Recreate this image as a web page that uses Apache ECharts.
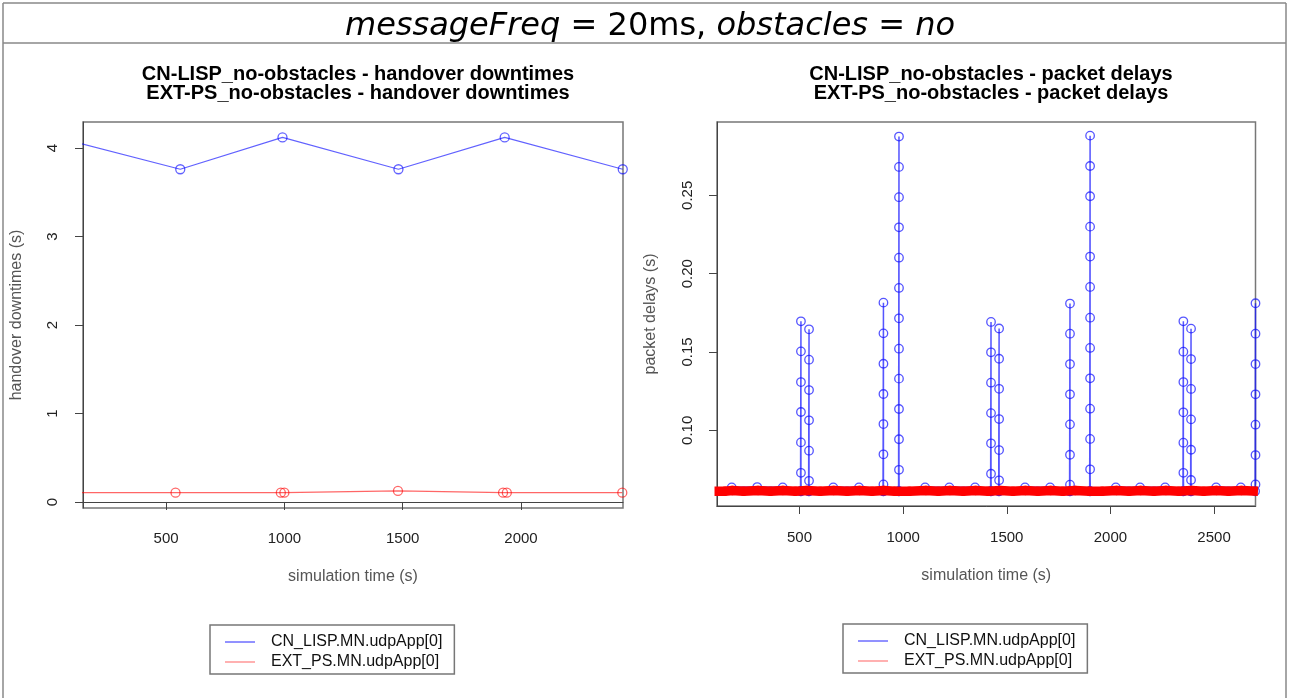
<!DOCTYPE html>
<html>
<head>
<meta charset="utf-8">
<script src="https://cdn.jsdelivr.net/npm/echarts@6/dist/echarts.min.js"></script>
<style>
  html, body { margin: 0; padding: 0; background: #fff; }
  #chart { width: 1289px; height: 698px; }
</style>
</head>
<body>
<div id="chart"></div>
<script>
// ---- handover downtimes (left panel) ----
const downtimeTicks = [0, 1, 2, 3, 4];
const leftTimeTicks = [500, 1000, 1500, 2000];
const cnDowntimeTime  = [40, 560, 992, 1482, 1931, 2430];
const cnDowntimeValue = [4.12, 3.76, 4.12, 3.76, 4.12, 3.76];
const extDowntimeTime  = [60, 540, 985, 1000, 1480, 1924, 1940, 2428];
const extDowntimeValue = [0.105, 0.105, 0.105, 0.105, 0.125, 0.105, 0.105, 0.105];

// ---- packet delays (right panel) ----
const delayTicks = [0.10, 0.15, 0.20, 0.25];
const rightTimeTicks = [500, 1000, 1500, 2000, 2500];
const cnDelayTime = [
  173, 296, 419, 505,
  507, 507, 507, 507, 507, 507, 508,
  544,
  546, 546, 546, 546, 546, 546, 547,
  663, 787, 903,
  905, 905, 905, 905, 905, 905, 905, 906,
  978,
  980, 980, 980, 980, 980, 980, 980, 980, 980, 980, 980, 980, 981,
  1106, 1223, 1347, 1422,
  1424, 1424, 1424, 1424, 1424, 1424, 1425,
  1461,
  1463, 1463, 1463, 1463, 1463, 1463, 1464,
  1588, 1709, 1803,
  1805, 1805, 1805, 1805, 1805, 1805, 1805, 1806,
  1900,
  1902, 1902, 1902, 1902, 1902, 1902, 1902, 1902, 1902, 1902, 1902, 1902, 1903,
  2026, 2143, 2264, 2350,
  2352, 2352, 2352, 2352, 2352, 2352, 2353,
  2387,
  2389, 2389, 2389, 2389, 2389, 2389, 2390,
  2510, 2629, 2698,
  2700, 2700, 2700, 2700, 2700, 2700, 2700
];
const cnDelayValue = [
  0.0636, 0.0638, 0.0636, 0.0611,
  0.1696, 0.1504, 0.1308, 0.1117, 0.0923, 0.0729, 0.0611,
  0.0611,
  0.1645, 0.1451, 0.1257, 0.1064, 0.0870, 0.0678, 0.0611,
  0.0636, 0.0636, 0.0611,
  0.1815, 0.1619, 0.1425, 0.1232, 0.1040, 0.0847, 0.0655, 0.0611,
  0.0611,
  0.2875, 0.2681, 0.2488, 0.2296, 0.2102, 0.1909, 0.1715, 0.1521, 0.1330, 0.1136, 0.0943, 0.0748, 0.0611,
  0.0636, 0.0636, 0.0636, 0.0611,
  0.1692, 0.1498, 0.1304, 0.1110, 0.0917, 0.0723, 0.0611,
  0.0611,
  0.1650, 0.1457, 0.1265, 0.1072, 0.0874, 0.0681, 0.0611,
  0.0636, 0.0636, 0.0611,
  0.1809, 0.1617, 0.1423, 0.1230, 0.1038, 0.0844, 0.0653, 0.0611,
  0.0611,
  0.2881, 0.2687, 0.2494, 0.2300, 0.2109, 0.1915, 0.1719, 0.1526, 0.1332, 0.1138, 0.0945, 0.0751, 0.0611,
  0.0636, 0.0636, 0.0636, 0.0611,
  0.1696, 0.1502, 0.1308, 0.1115, 0.0921, 0.0729, 0.0611,
  0.0611,
  0.1649, 0.1455, 0.1264, 0.1070, 0.0876, 0.0683, 0.0611,
  0.0636, 0.0636, 0.0611,
  0.1811, 0.1617, 0.1423, 0.1230, 0.1036, 0.0842, 0.0655
];
const extDelayTime = [
  90, 140, 176, 230, 300, 360, 420, 480, 535, 600, 665, 730, 790, 850, 906,
  960, 1030, 1110, 1170, 1226, 1290, 1350, 1410, 1468, 1530, 1590, 1650, 1712,
  1770, 1830, 1900, 1960, 2030, 2090, 2146, 2210, 2268, 2330, 2392, 2450, 2512,
  2570, 2632, 2712
];
const extDelayValue = [
  0.0611, 0.0611, 0.0616, 0.0611, 0.0616, 0.0611, 0.0616, 0.0611, 0.0616, 0.0611, 0.0616, 0.0611, 0.0616, 0.0611, 0.0616,
  0.0611, 0.0611, 0.0616, 0.0611, 0.0616, 0.0611, 0.0616, 0.0611, 0.0616, 0.0611, 0.0616, 0.0611, 0.0616,
  0.0611, 0.0616, 0.0611, 0.0611, 0.0616, 0.0611, 0.0616, 0.0611, 0.0616, 0.0611, 0.0616, 0.0611, 0.0616,
  0.0611, 0.0616, 0.0611
];

const CN_NAME = 'CN_LISP.MN.udpApp[0]';
const EXT_NAME = 'EXT_PS.MN.udpApp[0]';
const BLUE = 'rgba(0,0,255,0.62)';
const RED = 'rgba(255,0,0,0.6)';
const FONT = 'Liberation Sans';

const pairs = (xs, ys) => xs.map((x, i) => [x, ys[i]]);

function valueAxis(extra) {
  return Object.assign({
    type: 'value',
    splitLine: { show: false },
    axisLine: { show: true, lineStyle: { color: '#444', width: 1 } },
    nameLocation: 'middle',
    nameTextStyle: { color: '#555', fontFamily: FONT, fontSize: 16 }
  }, extra);
}

function ticks(values) {
  return { show: true, length: 8, customValues: values, lineStyle: { color: '#444', width: 1 } };
}

function labels(values, extra) {
  return Object.assign({
    color: '#222', fontFamily: FONT, fontSize: 15, customValues: values,
    formatter: v => String(v)
  }, extra);
}

function legendAt(left, top) {
  return {
    orient: 'vertical',
    left: left, top: top,
    icon: 'rect',
    itemWidth: 30, itemHeight: 1.2,
    itemGap: 4,
    padding: [9, 12, 4, 15],
    borderColor: '#777', borderWidth: 1.5,
    textStyle: { fontFamily: FONT, fontSize: 16, color: '#111', lineHeight: 16, padding: [0, 0, 0, 11] },
    data: [
      { name: CN_NAME, itemStyle: { color: 'rgba(40,40,255,0.85)', borderWidth: 0 } },
      { name: EXT_NAME, itemStyle: { color: 'rgba(255,80,80,0.75)', borderWidth: 0 } }
    ],
    selectedMode: false
  };
}

function lineSeries(name, xi, yi, data, color, lineWidth, size, z) {
  return {
    name: name, type: 'line',
    xAxisIndex: xi, yAxisIndex: yi,
    data: data,
    symbol: 'circle', symbolSize: size,
    lineStyle: { color: color, width: lineWidth },
    itemStyle: { color: 'rgba(0,0,0,0)', borderColor: color, borderWidth: 1.3 },
    clip: true, silent: true, z: z
  };
}

const chart = echarts.init(document.getElementById('chart'), null, { renderer: 'canvas' });
chart.setOption({
  animation: false,
  backgroundColor: '#fff',
  title: [
    {
      text: '{i|messageFreq}{n| = 20ms, }{i|obstacles}{n| = }{i|no}',
      left: 645, top: 3, textAlign: 'center',
      textStyle: {
        fontWeight: 'normal',
        rich: {
          i: { fontFamily: 'DejaVu Sans', fontSize: 32, fontStyle: 'italic', fontWeight: 'normal', color: '#000', lineHeight: 38 },
          n: { fontFamily: 'DejaVu Sans', fontSize: 32, fontWeight: 'normal', color: '#000', lineHeight: 38 }
        }
      }
    },
    {
      text: 'CN-LISP_no-obstacles - handover downtimes\nEXT-PS_no-obstacles - handover downtimes',
      left: 353, top: 60, textAlign: 'center',
      textStyle: { fontFamily: FONT, fontSize: 20, fontWeight: 'bold', color: '#000', lineHeight: 19 }
    },
    {
      text: 'CN-LISP_no-obstacles - packet delays\nEXT-PS_no-obstacles - packet delays',
      left: 986, top: 60, textAlign: 'center',
      textStyle: { fontFamily: FONT, fontSize: 20, fontWeight: 'bold', color: '#000', lineHeight: 19 }
    }
  ],
  graphic: [
    { type: 'line', shape: { x1: 3, y1: 3, x2: 1286, y2: 3 }, style: { stroke: '#888', lineWidth: 1.5 } },
    { type: 'line', shape: { x1: 3, y1: 43, x2: 1286, y2: 43 }, style: { stroke: '#888', lineWidth: 1.5 } },
    { type: 'line', shape: { x1: 3, y1: 3, x2: 3, y2: 698 }, style: { stroke: '#888', lineWidth: 1.5 } },
    { type: 'line', shape: { x1: 1286, y1: 3, x2: 1286, y2: 698 }, style: { stroke: '#888', lineWidth: 1.5 } }
  ],
  legend: [legendAt(210, 625), legendAt(843, 624)],
  grid: [
    { left: 83, top: 122, width: 540, height: 386, show: true, borderColor: '#777', borderWidth: 1.5, backgroundColor: 'transparent' },
    { left: 717, top: 122, width: 538.5, height: 384, show: true, borderColor: '#777', borderWidth: 1.5, backgroundColor: 'transparent' }
  ],
  xAxis: [
    valueAxis({
      gridIndex: 0, min: 149, max: 2431,
      name: 'simulation time (s)', nameGap: 61,
      axisTick: ticks(leftTimeTicks),
      axisLabel: labels(leftTimeTicks, { margin: 23 })
    }),
    valueAxis({
      gridIndex: 1, min: 102, max: 2700,
      name: 'simulation time (s)', nameGap: 62,
      axisTick: ticks(rightTimeTicks),
      axisLabel: labels(rightTimeTicks, { margin: 24 })
    })
  ],
  yAxis: [
    valueAxis({
      gridIndex: 0, min: -0.068, max: 4.294,
      name: 'handover downtimes (s)', nameGap: 58,
      axisTick: ticks(downtimeTicks),
      axisLabel: labels(downtimeTicks, { margin: 23, rotate: 90 })
    }),
    valueAxis({
      gridIndex: 1, min: 0.0517, max: 0.2968,
      name: 'packet delays (s)', nameGap: 58,
      axisTick: ticks(delayTicks),
      axisLabel: labels(delayTicks, { margin: 22, rotate: 90, formatter: v => v.toFixed(2) })
    })
  ],
  series: [
    lineSeries(CN_NAME, 0, 0, pairs(cnDowntimeTime, cnDowntimeValue), BLUE, 1.2, 9, 2),
    lineSeries(EXT_NAME, 0, 0, pairs(extDowntimeTime, extDowntimeValue), RED, 1.3, 9, 3),
    lineSeries(CN_NAME, 1, 1, pairs(cnDelayTime, cnDelayValue), 'rgba(20,20,255,0.72)', 1.5, 8.5, 2),
    lineSeries(EXT_NAME, 1, 1, pairs(extDelayTime, extDelayValue), '#ff0000', 9.5, 8, 6)
  ]
});
</script>
</body>
</html>
